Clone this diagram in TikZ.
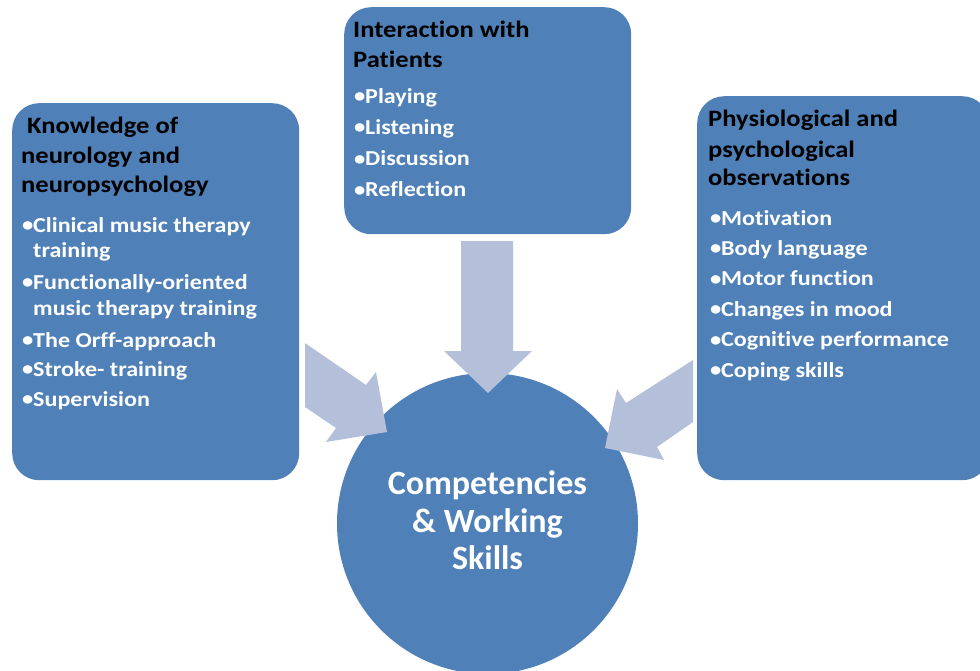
\documentclass[tikz,border=0pt]{standalone}
\usepackage{fontspec}
\setmainfont{Carlito}[Ligatures=NoCommon]
\newfontfamily\boxfont{Carlito}[FakeStretch=1.13,Ligatures=NoCommon]
\usepackage{xcolor}
\definecolor{boxblue}{RGB}{79,128,184}
\definecolor{arrowblue}{RGB}{180,192,218}
\newcommand\bul{\makebox[11pt][l]{\raisebox{0.5pt}{\fontsize{20}{20}\selectfont•}}}
\tikzset{
	box/.style={rectangle,fill=boxblue,draw=none,rounded corners=27,anchor=north west,inner sep=0},
	box head/.style={anchor=base west,inner sep=0,text=black,font=\boxfont\fontsize{23.5}{28}\selectfont\bfseries},
	box item/.style={anchor=base west,inner sep=0,text=white,font=\boxfont\fontsize{21.3}{25}\selectfont\bfseries},
	comp text/.style={anchor=base,inner sep=0,text=white,font=\fontsize{34}{38}\selectfont\bfseries},
	block arrow/.style={fill=arrowblue,draw=none}
}

\begin{document}
\begin{tikzpicture}[x=1pt,y=-1pt]
  \clip (0,0) rectangle (980,670);
  
  % BOXES
  \node[box,minimum width=287,minimum height=377] (know) at (12,103) {};
  \node[box,minimum width=287,minimum height=227] (inter) at (344,7) {};
  \node[box,minimum width=292,minimum height=384] (phys) at (697,96) {};
  \node[circle,fill=boxblue,inner sep=0,minimum size=301] (comp) at (487.5,523.5) {};
  
  % LEFT BOX
  \foreach \y/\t [count=\i] in {133/\ Knowledge of,163/neurology and,192/neuropsychology}{
    \node[box head] (know-h\i) at (21,\y) {\t};
  }
  \foreach \y/\t [count=\i] in {232/\bul Clinical music therapy,257/\hspace{11pt}training,
                                289/\bul Functionally-oriented,315/\hspace{11pt}music therapy training,
                                347/\bul The Orff-approach,376/\bul Stroke- training,406/\bul Supervision}{
    \node[box item] (know-\i) at (22,\y) {\t};
  }
  
  % MIDDLE BOX
  \foreach \y/\t [count=\i] in {37/Interaction with,67/Patients}{
    \node[box head] (inter-h\i) at (353,\y) {\t};
  }
  \foreach \t [count=\i, evaluate={\y=103+31.3*(\i-1);}] in {Playing,Listening,Discussion,Reflection}{
    \node[box item] (inter-\i) at (354,\y) {\bul\t};
  }
  
  % RIGHT BOX
  \foreach \y/\t [count=\i] in {126/Physiological and,157/psychological,185/observations}{
    \node[box head] (phys-h\i) at (708,\y) {\t};
  }
  \foreach \t [count=\i, evaluate={\y=225+30.4*(\i-1);}]
    in {Motivation,Body language,Motor function,Changes in mood,Cognitive performance,Coping skills}{
    \node[box item] (phys-\i) at (710,\y) {\bul\t};
  }
  
  % CIRCLE TEXT
  \foreach \y/\t [count=\i] in {494/Competencies,532/\& Working,569/Skills}{
    \node[comp text] (comp-\i) at (487.5,\y) {\t};
  }
  
  % ARROWS
  \fill[block arrow] (461,241) -- (513,241) -- (513,351) -- (532,351) -- (488,393)
    -- (444,351) -- (461,351) -- cycle;
  \fill[block arrow] (305,343) -- (366,385) -- (376,372) -- (387,432) -- (326,442)
    -- (336,428) -- (305,407) -- cycle;
  \fill[block arrow] (693,360) -- (626,403) -- (617,389) -- (605,448) -- (664,460)
    -- (657,447) -- (693,422) -- cycle;
  
\end{tikzpicture}
\end{document}
